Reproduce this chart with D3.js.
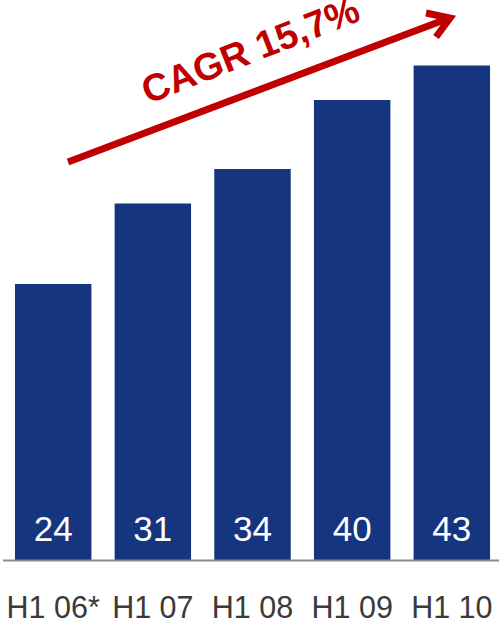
<!DOCTYPE html>
<html>
<head>
<meta charset="utf-8">
<script src="https://cdn.jsdelivr.net/npm/d3@7"></script>
<style>
  html, body { margin: 0; padding: 0; background: #fff; }
  svg { display: block; }
</style>
</head>
<body>
<svg id="chart" width="499" height="624"></svg>
<script>
// Half-year figures
const categories = ["H1 06*", "H1 07", "H1 08", "H1 09", "H1 10"];
const values = [24, 31, 34, 40, 43];
const growthLabel = "CAGR 15,7%";

const W = 499, H = 624;
const baseY = 560;
const svg = d3.select("#chart");

const x = d3.scaleBand()
  .domain(categories)
  .range([2, 503])
  .paddingInner(0.233)
  .paddingOuter(0.13);

const y = d3.scaleLinear()
  .domain([0, 43])
  .range([baseY, 65.5]);

// Bars
svg.append("g")
  .selectAll("rect")
  .data(values)
  .join("rect")
  .attr("x", (d, i) => x(categories[i]))
  .attr("y", d => y(d))
  .attr("width", x.bandwidth())
  .attr("height", d => baseY - y(d))
  .attr("fill", "#15357f");

// Value labels inside bars
svg.append("g")
  .selectAll("text")
  .data(values)
  .join("text")
  .attr("x", (d, i) => x(categories[i]) + x.bandwidth() / 2)
  .attr("y", 541)
  .attr("text-anchor", "middle")
  .attr("font-family", "Liberation Sans, Arial, sans-serif")
  .attr("font-size", 35)
  .attr("fill", "#fff")
  .text(d => d);

// Baseline
svg.append("line")
  .attr("x1", 3).attr("x2", 499)
  .attr("y1", baseY + 0.5).attr("y2", baseY + 0.5)
  .attr("stroke", "#8c8c8c")
  .attr("stroke-width", 2);

// Category axis
const xAxis = d3.axisBottom(x).tickSize(0).tickPadding(0);
const gx = svg.append("g")
  .attr("transform", `translate(0, ${baseY})`)
  .call(xAxis);
gx.select(".domain").remove();
gx.selectAll("text")
  .attr("y", 58)
  .attr("dy", 0)
  .attr("font-family", "Liberation Sans, Arial, sans-serif")
  .attr("font-size", 30.5)
  .attr("fill", "#3a3a3a");

// Growth arrow
const red = "#c00000";
const a0 = [68, 162], a1 = [452, 17];
svg.append("line")
  .attr("x1", a0[0]).attr("y1", a0[1])
  .attr("x2", a1[0] - 4).attr("y2", a1[1] + 1.5)
  .attr("stroke", red)
  .attr("stroke-width", 7);
svg.append("path")
  .attr("d", d3.line()([[426, 13], [450, 18], [436, 37]]))
  .attr("fill", "none")
  .attr("stroke", red)
  .attr("stroke-width", 7)
  .attr("stroke-linejoin", "miter")
  .attr("stroke-miterlimit", 10);

const angle = Math.atan2(a1[1] - a0[1], a1[0] - a0[0]) * 180 / Math.PI - 0.8;
svg.append("text")
  .attr("transform", `translate(255, 62) rotate(${angle})`)
  .attr("text-anchor", "middle")
  .attr("font-family", "Liberation Sans, Arial, sans-serif")
  .attr("font-weight", "bold")
  .attr("font-size", 38)
  .attr("fill", red)
  .text(growthLabel);
</script>
</body>
</html>
